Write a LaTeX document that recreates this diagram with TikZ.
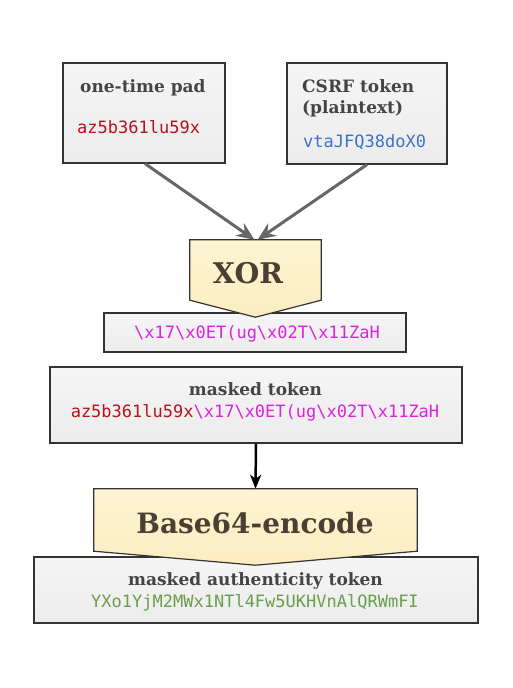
\documentclass[tikz,border=0pt]{standalone}
\usepackage{fontspec}
\setmainfont{DejaVu Serif}
\newfontfamily\codefont{DejaVu Sans Mono}
\usetikzlibrary{arrows.meta}
\definecolor{boxline}{HTML}{333333}
\definecolor{boxtop}{HTML}{F5F5F5}
\definecolor{boxbot}{HTML}{ECECEC}
\definecolor{pentop}{HTML}{FDF4D3}
\definecolor{penbot}{HTML}{FCEDC0}
\definecolor{titlecol}{HTML}{444444}
\definecolor{opcol}{HTML}{4A3F33}
\definecolor{redcode}{HTML}{B5121B}
\definecolor{bluecode}{HTML}{3C72C4}
\definecolor{magcode}{HTML}{DD22DD}
\definecolor{greencode}{HTML}{6A9E4C}
\definecolor{arrowgray}{HTML}{666666}
\tikzset{
  databox/.style={draw=boxline, line width=1.2pt, top color=boxtop, bottom color=boxbot, inner sep=0pt},
  penta/.style={draw=boxline, line width=1.2pt, top color=pentop, bottom color=penbot},
  titletext/.style={font=\bfseries\fontsize{17}{20}\selectfont, text=titlecol, inner sep=0pt},
  codetext/.style={font=\codefont\fontsize{17}{20}\selectfont, inner sep=0pt},
  optext/.style={font=\bfseries\fontsize{28.5}{32}\selectfont, text=opcol, inner sep=0pt},
  grayarrow/.style={draw=arrowgray, line width=3pt, -{Stealth[length=18pt,width=15pt,inset=6pt]}},
  blackarrow/.style={draw=black, line width=2.5pt, -{Stealth[length=14pt,width=11pt,inset=4pt]}},
}
\begin{document}
\begin{tikzpicture}[x=1pt,y=-1pt]
\useasboundingbox (0,0) rectangle (513,688);
% input boxes
\node[databox, minimum width=162pt, minimum height=100pt] (otp) at (144,113) {};
\node[databox, minimum width=160pt, minimum height=101pt] (csrf) at (367,113.5) {};
\node[titletext, anchor=base west] (otpt) at (80,92) {one-time pad};
\node[codetext, text=redcode, anchor=base west] (otpc) at (77,133) {az5b361lu59x};
\node[titletext, anchor=base west] (csrft1) at (302,92) {CSRF token};
\node[titletext, anchor=base west] (csrft2) at (302,113) {(plaintext)};
\node[codetext, text=bluecode, anchor=base west] (csrfc) at (303,147) {vtaJFQ38doX0};
% xor result box
\node[databox, minimum width=302pt, minimum height=39pt] (xres) at (255,332.5) {};
% XOR pentagon
\node[minimum width=131pt, minimum height=60pt, inner sep=0pt] (xor) at (255.5,270) {};
\path[penta] (xor.north west) -- (xor.north east) -- (xor.south east) -- ([yshift=-17pt]xor.south) -- (xor.south west) -- cycle;
\node[optext, anchor=base] (xorl) at (248,283) {XOR};
\node[codetext, text=magcode, anchor=base] (xresc) at (257,338) {\textbackslash x17\textbackslash x0ET(ug\textbackslash x02T\textbackslash x11ZaH};
% arrows into XOR
\draw[grayarrow] ([xshift=1pt]otp.south) -- ([xshift=-1pt]xor.north);
\draw[grayarrow] ([xshift=0pt]csrf.south) -- ([xshift=2pt]xor.north);
% masked token
\node[databox, minimum width=412pt, minimum height=76pt] (masked) at (256,405) {};
\node[titletext, anchor=base] (maskedt) at (255.5,395) {masked token};
\node[codetext, anchor=base] (maskedc) at (255,417) {{\color{redcode}az5b361lu59x}{\color{magcode}\textbackslash x17\textbackslash x0ET(ug\textbackslash x02T\textbackslash x11ZaH}};
% final box
\node[databox, minimum width=444pt, minimum height=66pt] (final) at (256,590) {};
% Base64 pentagon
\node[minimum width=323pt, minimum height=62pt, inner sep=0pt] (b64) at (255.5,520) {};
\path[penta] (b64.north west) -- (b64.north east) -- (b64.south east) -- ([yshift=-14pt]b64.south) -- (b64.south west) -- cycle;
\node[optext, font=\bfseries\fontsize{28}{32}\selectfont, anchor=base] (b64l) at (255,533) {Base64-encode};
\draw[blackarrow] (masked.south) -- (b64.north);
\node[titletext, anchor=base] (finalt) at (255.5,585) {masked authenticity token};
\node[codetext, text=greencode, anchor=base] (finalc) at (255,607) {YXo1YjM2MWx1NTl4Fw5UKHVnAlQRWmFI};
\end{tikzpicture}
\end{document}
